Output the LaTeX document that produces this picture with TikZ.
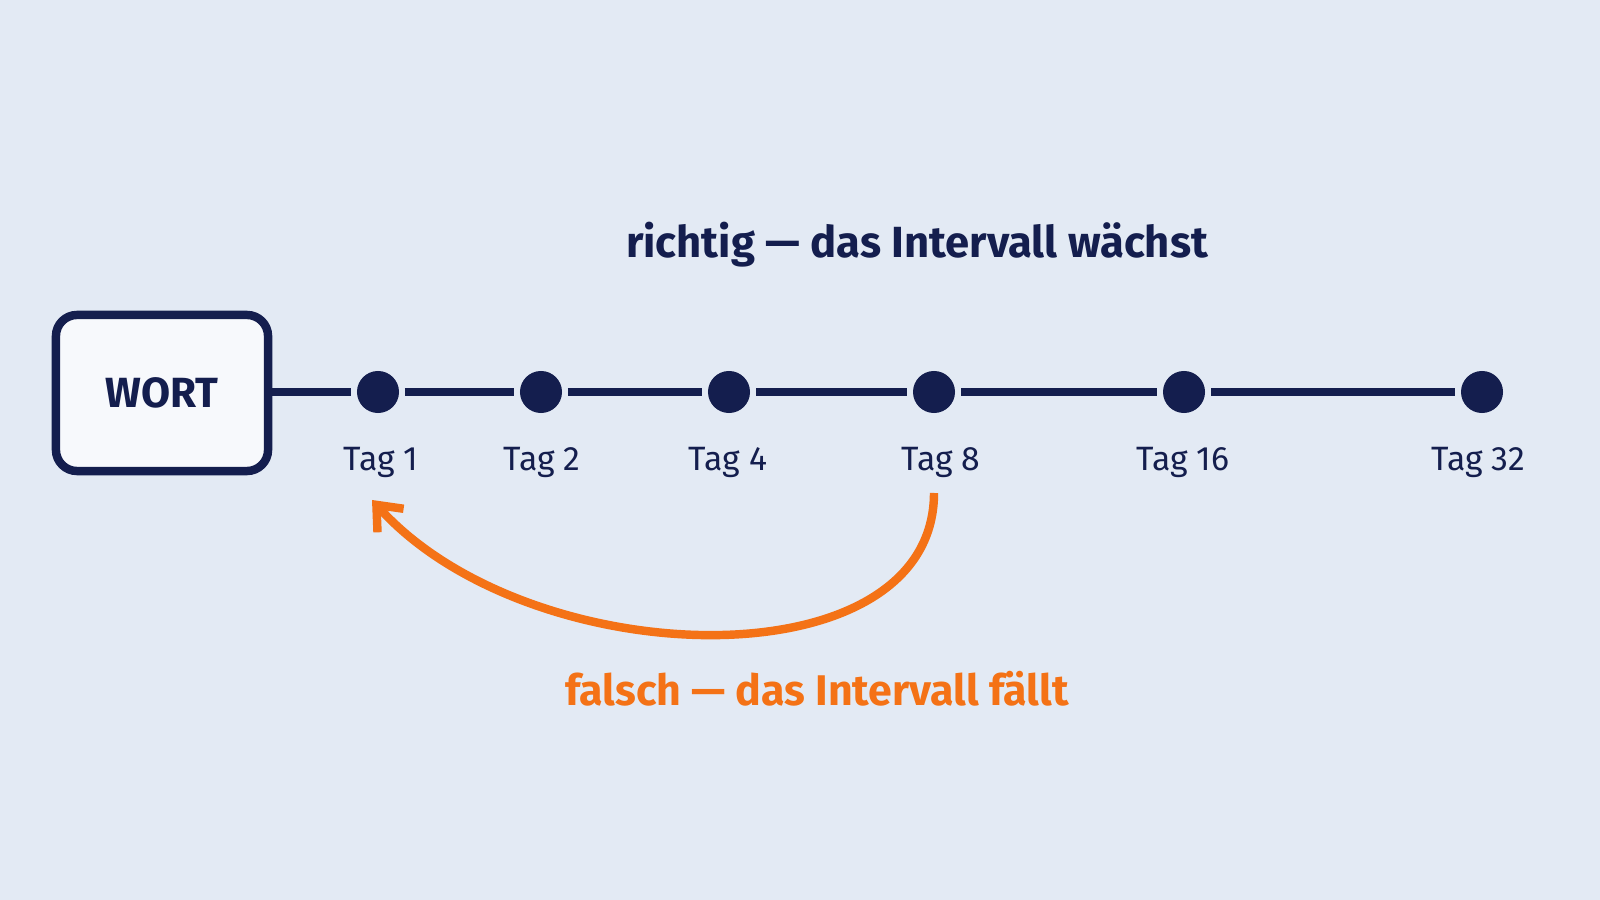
\documentclass[tikz,border=0pt]{standalone}
\usepackage{fontspec}
\setmainfont{Fira Sans}
\usetikzlibrary{arrows.meta,positioning}
\definecolor{bgcol}{HTML}{E3EAF4}
\definecolor{navy}{HTML}{141E4E}
\definecolor{orng}{HTML}{F47216}
\tikzset{
  dot/.style={circle,fill=navy,minimum size=0.42cm,inner sep=0pt},
  day/.style={text=navy,font=\fontsize{9.6}{11}\selectfont},
  link/.style={navy,line width=2.2pt,shorten <=1.5pt,shorten >=1.5pt},
}
\begin{document}
\begin{tikzpicture}[x=0.01cm,y=0.01cm]
\fill[bgcol] (0,0) rectangle (1600,900);
\useasboundingbox (0,0) rectangle (1600,900);
%%
\node (wort) at (162,507) [draw=navy,line width=2.4pt,rounded corners=6pt,fill=white!70!bgcol,minimum width=2.12cm,minimum height=1.56cm,text=navy,font=\bfseries\fontsize{12}{14}\selectfont] {WORT};
\node (d1) at (378,508) [dot] {};
\node (d2) at (541,508) [dot] {};
\node (d4) at (729,508) [dot] {};
\node (d8) at (934,508) [dot] {};
\node (d16) at (1184,508) [dot] {};
\node (d32) at (1482,508) [dot] {};
\node (t1) at (381,438) [day] {Tag 1};
\node (t2) at (542,438) [day] {Tag 2};
\node (t4) at (728,438) [day] {Tag 4};
\node (t8) at (941,438) [day] {Tag 8};
\node (t16) at (1183,438) [day] {Tag 16};
\node (t32) at (1478,438) [day] {Tag 32};
\draw [navy,line width=2.2pt,shorten >=1.5pt] (wort.east |- d1) -- (d1);
\foreach \a/\b in {d1/d2,d2/d4,d4/d8,d8/d16,d16/d32}
  \draw [link] (\a) -- (\b);
\node (up) at (917,655) [text=navy,font=\fontsize{12.4}{14}\selectfont\bfseries] {richtig — das Intervall wächst};
\coordinate (from) at (934,407);
\coordinate (to) at (372,400);
\draw [orng,line width=2.4pt,-{Straight Barb[length=6pt,width=10pt]}] (from) .. controls (934,215) and (530,225) .. (to);
\node (down) at (817,211) [text=orng,font=\fontsize{12.2}{14}\selectfont\bfseries] {falsch — das Intervall fällt};
%
\end{tikzpicture}
\end{document}
